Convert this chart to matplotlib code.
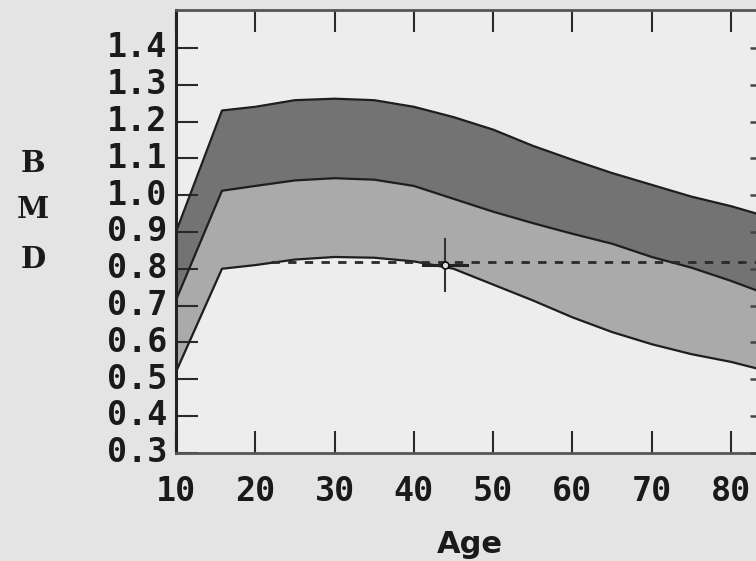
import matplotlib
matplotlib.use("Agg")
import matplotlib.pyplot as plt

# reference curves (BMD vs age)
ages = [10, 15.8, 20, 25, 30, 35, 40, 45, 50, 55, 60, 65, 70, 75, 80, 84]
upper = [0.90, 1.23, 1.24, 1.258, 1.262, 1.258, 1.24, 1.212, 1.178, 1.134,
         1.096, 1.060, 1.028, 0.996, 0.970, 0.945]
mean = [0.715, 1.012, 1.025, 1.04, 1.046, 1.042, 1.025, 0.99, 0.955, 0.924,
        0.895, 0.868, 0.832, 0.803, 0.767, 0.735]
lower = [0.52, 0.80, 0.81, 0.825, 0.832, 0.83, 0.82, 0.80, 0.757, 0.714,
         0.668, 0.628, 0.595, 0.568, 0.547, 0.525]

patient_age = 43.9
patient_bmd = 0.81
ref_level = 0.818

xticks = [10, 20, 30, 40, 50, 60, 70, 80]
yticks = [0.3, 0.4, 0.5, 0.6, 0.7, 0.8, 0.9, 1.0, 1.1, 1.2, 1.3, 1.4]

fig = plt.figure(figsize=(7.56, 5.61), dpi=100, facecolor="#e4e4e4")
ax = fig.add_axes([176 / 756, 108.2 / 561, 582 / 756, 442.8 / 561])
ax.set_facecolor("#ededed")

ax.fill_between(ages, mean, upper, color="#737373", lw=0)
ax.fill_between(ages, lower, mean, color="#aaaaaa", lw=0)
for c in (upper, mean, lower):
    ax.plot(ages, c, color="#1e1e1e", lw=1.6)

ax.plot([22, 84], [ref_level, ref_level], color="#2a2a2a", lw=2,
        linestyle=(0, (3, 3)))
# crosshair
ax.plot([patient_age - 2.8, patient_age + 2.8], [patient_bmd, patient_bmd],
        color="#222222", lw=2.2)
ax.plot([patient_age, patient_age], [patient_bmd - 0.07, patient_bmd + 0.07],
        color="#333333", lw=1.5)
ax.plot(patient_age, patient_bmd, "o", ms=5, mfc="#dddddd", mec="#111111", mew=1.2)

ax.set_xlim(10, 83.4)
ax.set_ylim(0.3, 1.503)
ax.set_xticks(xticks)
ax.set_yticks(yticks)
ax.set_xticklabels([str(t) for t in xticks])
ax.set_yticklabels(["%.1f" % t for t in yticks])

mono = {"family": "DejaVu Sans Mono", "weight": "bold", "size": 24}
for lbl in ax.get_xticklabels() + ax.get_yticklabels():
    lbl.set_fontproperties(mono)
    lbl.set_color("#1a1a1a")
for lbl in ax.get_yticklabels():
    lbl.set_va("center")

ax.tick_params(axis="both", direction="in", length=15.5, width=1.5,
               color="#2a2a2a", top=True, right=False)
ax.tick_params(axis="x", pad=16)
ax.tick_params(axis="y", pad=6)

# short ticks on the (cut off) right side
ax2 = ax.twinx()
ax2.set_ylim(ax.get_ylim())
ax2.set_yticks(yticks)
ax2.set_yticklabels([])
ax2.tick_params(axis="y", direction="in", length=6, width=1.8, color="#444444")
for s in ax2.spines.values():
    s.set_visible(False)

ax.spines["right"].set_visible(False)
ax.spines["left"].set_linewidth(2.2)
ax.spines["left"].set_color("#222222")
for s in ("top", "bottom"):
    ax.spines[s].set_linewidth(2)
    ax.spines[s].set_color("#555555")

for letter, yy in zip("BMD", [164, 210, 259]):
    fig.text(33 / 756, 1 - yy / 561, letter, ha="center", va="center",
             fontsize=21, fontweight="bold", family="DejaVu Serif",
             color="#1a1a1a")

fig.text(470 / 756, 1 - 553 / 561, "Age", ha="center", va="baseline",
         fontsize=22, fontweight="bold", family="DejaVu Sans", color="#1a1a1a")

fig.savefig("out.png", dpi=100, facecolor=fig.get_facecolor())
